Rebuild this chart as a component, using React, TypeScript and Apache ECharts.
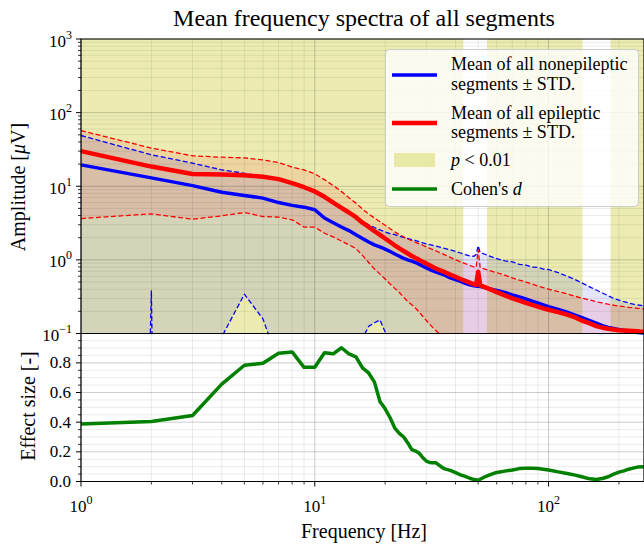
import React, { useEffect, useRef } from 'react';
import * as echarts from 'echarts';

const SERIF = 'Liberation Serif';

// ---------- data ----------
const FREQ = [
  1, 2, 3, 4, 5, 6, 7, 8, 9, 10,
  11, 12, 13, 14, 15, 16, 17, 18, 19, 20,
  21, 22, 23, 24, 25, 26, 27, 28, 29, 30,
  32, 34, 36, 38, 40, 42, 44, 46, 48,
  49, 50, 51, 52,
  55, 60, 65, 70, 75, 80, 85, 90, 95, 100,
  110, 120, 130, 140, 150, 160, 170, 180, 190, 200, 210, 220, 230, 240,
  250, 256,
];

const BLUE_MEAN = [
  19.5, 13, 10.2, 8.3, 7.5, 6.9, 6.0, 5.5, 5.2, 4.8,
  3.7, 3.2, 2.8, 2.5, 2.2, 1.95, 1.75, 1.6, 1.5, 1.4,
  1.3, 1.2, 1.12, 1.05, 1.0, 0.96, 0.92, 0.87, 0.82, 0.78,
  0.71, 0.66, 0.62, 0.57, 0.54, 0.51, 0.48, 0.46, 0.445,
  0.44, 0.44, 0.435, 0.43,
  0.41, 0.385, 0.36, 0.335, 0.315, 0.295, 0.275, 0.26, 0.245, 0.232,
  0.213, 0.195, 0.178, 0.163, 0.15, 0.138, 0.128, 0.121, 0.117, 0.113, 0.11, 0.107, 0.105, 0.103,
  0.102, 0.101,
];

const BLUE_UPPER = [
  48.9, 26.7, 20.6, 16.7, 15.0, 13.6, 12.4, 10.9, 9.6, 8.4,
  7.1, 5.9, 5.0, 4.3, 3.7, 3.3, 3.0, 2.75, 2.55, 2.4,
  2.28, 2.2, 2.1, 2.02, 1.95, 1.89, 1.83, 1.77, 1.7, 1.65,
  1.57, 1.5, 1.43, 1.37, 1.3, 1.24, 1.18, 1.13, 1.12,
  1.18, 1.55, 1.25, 1.23,
  1.15, 1.04, 0.97, 0.94, 0.87, 0.85, 0.8, 0.79, 0.75, 0.74,
  0.67, 0.6, 0.54, 0.48, 0.43, 0.39, 0.355, 0.325, 0.3, 0.285, 0.27, 0.26, 0.25, 0.245,
  0.24, 0.238,
];

const BLUE_LOWER = [
  1e-40, 0.38, 1e-40, 0.09, 0.342, 0.158, 0.04, 0.01, 0.01, 0.01,
  0.01, 0.01, 0.01, 0.01, 0.01, 0.086, 0.125, 0.14, 0.153, 0.105,
  0.06, 0.02, 0.01, 0.01, 0.01, 0.01, 0.01, 0.01, 0.01, 0.01,
  0.01, 0.01, 0.01, 0.01, 0.01, 0.01, 0.01, 0.01, 0.01,
  0.01, 0.01, 0.01, 0.01,
  0.01, 0.01, 0.01, 0.01, 0.01, 0.01, 0.01, 0.01, 0.01, 0.01,
  0.01, 0.01, 0.01, 0.01, 0.01, 0.01, 0.01, 0.01, 0.01, 0.01, 0.01, 0.01, 0.01, 0.01,
  0.01, 0.01,
];

const RED_MEAN = [
  30, 18.5, 14.7, 14.4, 14.1, 13.5, 12.5, 11, 9.7, 8.5,
  7.2, 6.0, 5.1, 4.4, 3.8, 3.2, 2.8, 2.45, 2.19, 1.95,
  1.75, 1.57, 1.43, 1.32, 1.22, 1.13, 1.06, 1.0, 0.94, 0.89,
  0.8, 0.73, 0.68, 0.63, 0.59, 0.55, 0.52, 0.49, 0.465,
  0.46, 0.69, 0.45, 0.44,
  0.41, 0.365, 0.33, 0.3, 0.28, 0.26, 0.245, 0.232, 0.22, 0.21,
  0.195, 0.18, 0.165, 0.148, 0.137, 0.126, 0.12, 0.116, 0.113, 0.111, 0.11, 0.109, 0.108, 0.107,
  0.106, 0.106,
];

const RED_UPPER = [
  57, 33, 25.9, 24.8, 24.3, 22.8, 21, 18.2, 16.7, 14.7,
  12.3, 10.2, 8.5, 7.0, 5.9, 4.9, 4.2, 3.7, 3.3, 2.95,
  2.65, 2.4, 2.2, 2.05, 1.92, 1.82, 1.73, 1.65, 1.58, 1.5,
  1.38, 1.27, 1.17, 1.08, 1.0, 0.94, 0.89, 0.84, 0.8,
  0.79, 1.37, 0.78, 0.77,
  0.73, 0.67, 0.62, 0.57, 0.53, 0.5, 0.47, 0.44, 0.42, 0.4,
  0.37, 0.345, 0.32, 0.3, 0.285, 0.27, 0.26, 0.25, 0.242, 0.236, 0.231, 0.227, 0.224, 0.22,
  0.218, 0.216,
];

const RED_LOWER = [
  3.64, 4.22, 3.57, 3.96, 4.4, 3.88, 3.8, 3.5, 2.78, 2.78,
  2.3, 2.05, 1.8, 1.6, 1.42, 1.15, 0.92, 0.75, 0.64, 0.55,
  0.47, 0.41, 0.36, 0.31, 0.27, 0.245, 0.22, 0.195, 0.17, 0.15,
  0.12, 0.1, 0.085, 0.07, 0.06, 0.05, 0.045, 0.04, 0.035,
  0.035, 0.05, 0.035, 0.035,
  0.033, 0.03, 0.03, 0.03, 0.03, 0.03, 0.03, 0.03, 0.03, 0.03,
  0.03, 0.03, 0.03, 0.03, 0.03, 0.03, 0.03, 0.03, 0.03, 0.03, 0.03, 0.03, 0.03, 0.03,
  0.03, 0.03,
];

// significance (p < 0.01) frequency spans
const SIG_START = [1, 54.5, 184];
const SIG_END = [43.2, 139.7, 256];

// Cohen's d
const D_FREQ = [
  1, 2, 3, 4, 5, 6, 7, 8, 9, 10,
  11, 12, 13, 14, 15, 16, 17, 18, 19, 20,
  21, 22, 23, 24, 25, 26, 27, 28, 29, 30,
  31, 32, 33, 34, 35, 36, 38, 40, 42, 44, 46, 48, 50,
  52, 54, 56, 60, 65, 70, 75, 80, 85, 90, 95, 100,
  110, 120, 130, 140, 150, 160, 170, 180, 190, 200, 210, 220, 230, 240, 256,
];
const D_VALS = [
  0.388, 0.404, 0.445, 0.657, 0.784, 0.797, 0.865, 0.874, 0.77, 0.77,
  0.868, 0.861, 0.902, 0.861, 0.841, 0.766, 0.732, 0.67, 0.54, 0.49,
  0.43, 0.36, 0.325, 0.3, 0.26, 0.215, 0.205, 0.19, 0.16, 0.138,
  0.128, 0.127, 0.126, 0.11, 0.095, 0.085, 0.075, 0.06, 0.045, 0.035, 0.022, 0.013, 0.008,
  0.022, 0.035, 0.045, 0.061, 0.07, 0.078, 0.087, 0.09, 0.09, 0.088, 0.082, 0.077,
  0.065, 0.054, 0.043, 0.03, 0.018, 0.013, 0.02, 0.032, 0.05, 0.063, 0.072, 0.083, 0.09, 0.097, 0.1,
];

// tick positions
const X_MAJOR = [1, 10, 100];
const X_MINOR = [2, 3, 4, 5, 6, 7, 8, 9, 20, 30, 40, 50, 60, 70, 80, 90, 200];
const YT_MAJOR = [0.1, 1, 10, 100, 1000];
const YT_MINOR = [
  0.2, 0.3, 0.4, 0.5, 0.6, 0.7, 0.8, 0.9,
  2, 3, 4, 5, 6, 7, 8, 9,
  20, 30, 40, 50, 60, 70, 80, 90,
  200, 300, 400, 500, 600, 700, 800, 900,
];
const YB_MAJOR = [0, 0.2, 0.4, 0.6, 0.8];
const YB_MINOR = [0.05, 0.1, 0.15, 0.25, 0.3, 0.35, 0.45, 0.5, 0.55, 0.65, 0.7, 0.75, 0.85, 0.9, 0.95];

const X_MIN = 1;
const X_MAX = 256;

// ---------- helpers ----------
const MAJOR_GRID = 'rgba(0,0,0,0.20)';
const MINOR_GRID = 'rgba(0,0,0,0.08)';

function vGrid(axisIdx: number, yRef: number, ticks: boolean) {
  const data = [
    ...X_MAJOR.map((v) => [v, yRef, 1]),
    ...X_MINOR.map((v) => [v, yRef, 0]),
  ];
  return {
    type: 'custom', xAxisIndex: axisIdx, yAxisIndex: axisIdx, z: 3, silent: true,
    data, encode: { x: 0, y: 1 },
    renderItem: (params: any, api: any) => {
      const cs = params.coordSys;
      const x = api.coord([api.value(0), yRef])[0];
      const major = api.value(2) === 1;
      const children: any[] = [
        { type: 'line', shape: { x1: x, y1: cs.y, x2: x, y2: cs.y + cs.height },
          style: { stroke: major ? MAJOR_GRID : MINOR_GRID, lineWidth: 1 } },
      ];
      if (ticks) {
        children.push({ type: 'line', shape: { x1: x, y1: cs.y + cs.height, x2: x, y2: cs.y + cs.height + (major ? 5 : 3) },
          style: { stroke: '#000', lineWidth: major ? 1 : 0.8 } });
      }
      return { type: 'group', children };
    },
  };
}

function hGrid(axisIdx: number, xRef: number, major: number[], minor: number[]) {
  const data = [
    ...major.map((v) => [xRef, v, 1]),
    ...minor.map((v) => [xRef, v, 0]),
  ];
  return {
    type: 'custom', xAxisIndex: axisIdx, yAxisIndex: axisIdx, z: 3, silent: true,
    data, encode: { x: 0, y: 1 },
    renderItem: (params: any, api: any) => {
      const cs = params.coordSys;
      const y = api.coord([xRef, api.value(1)])[1];
      const isMajor = api.value(2) === 1;
      return {
        type: 'group',
        children: [
          { type: 'line', shape: { x1: cs.x, y1: y, x2: cs.x + cs.width, y2: y },
            style: { stroke: isMajor ? MAJOR_GRID : MINOR_GRID, lineWidth: 1 } },
          { type: 'line', shape: { x1: cs.x - (isMajor ? 5 : 3), y1: y, x2: cs.x, y2: y },
            style: { stroke: '#000', lineWidth: isMajor ? 1 : 0.8 } },
        ],
      };
    },
  };
}

function band(lo: number[], hi: number[], color: string, z: number) {
  return {
    type: 'custom', xAxisIndex: 0, yAxisIndex: 0, z, silent: true, clip: true,
    data: FREQ.map((f, i) => [f, lo[i], hi[i]]),
    encode: { x: 0, y: [1, 2] },
    renderItem: (params: any, api: any) => {
      if (params.dataIndex !== 0) return null;
      const top = FREQ.map((f, i) => api.coord([f, hi[i]]));
      const bot = FREQ.map((f, i) => api.coord([f, lo[i]])).reverse();
      return { type: 'polygon', shape: { points: top.concat(bot) }, style: { fill: color } };
    },
  };
}

function line(vals: number[], color: string, width: number, dashed: boolean, z: number) {
  return {
    type: 'line', xAxisIndex: 0, yAxisIndex: 0, z, silent: true, clip: true,
    data: FREQ.map((f, i) => [f, vals[i]]),
    symbol: 'none', showSymbol: false,
    lineStyle: { color, width, type: dashed ? [5, 2.5] : 'solid', cap: 'butt', join: 'round' },
  };
}

const sciRich = {
  b: { fontSize: 17, fontFamily: SERIF, color: '#000', padding: [4, 0, 0, 0], verticalAlign: 'bottom' },
  s: { fontSize: 12, fontFamily: SERIF, color: '#000', verticalAlign: 'top' },
};
const sciFmt = (v: number) => {
  const e = Math.round(Math.log10(v));
  return `{b|10}{s|${e < 0 ? '\u2212' + -e : e}}`;
};

const LEG = 18;
const txt = (extra: any) => ({ fontSize: LEG, fontFamily: SERIF, fill: '#000', verticalAlign: 'middle', ...extra });
const italic = { i: { fontSize: LEG, fontFamily: SERIF, fontStyle: 'italic', fill: '#000' } };

export default function App() {
  const ref = useRef<HTMLDivElement>(null);
  useEffect(() => {
    document.body.style.margin = '0';
    const chart = echarts.init(ref.current!, null, { renderer: 'svg' });
    const option: any = {
      animation: false,
      textStyle: { fontFamily: SERIF },
      grid: [
        { left: 81, top: 39, width: 569.5, height: 294.5, show: true, borderColor: '#000', borderWidth: 1.2, backgroundColor: 'transparent', z: 10 },
        { left: 81, top: 333.5, width: 569.5, height: 148, show: true, borderColor: '#000', borderWidth: 1.2, backgroundColor: 'transparent', z: 10 },
      ],
      xAxis: [
        { type: 'log', logBase: 10, gridIndex: 0, min: X_MIN, max: X_MAX, interval: 1,
          axisLine: { show: false }, axisTick: { show: false }, axisLabel: { show: false }, splitLine: { show: false } },
        { type: 'log', logBase: 10, gridIndex: 1, min: X_MIN, max: X_MAX, interval: 1,
          axisLine: { show: false }, axisTick: { show: false }, splitLine: { show: false },
          axisLabel: { formatter: sciFmt, rich: sciRich, margin: 12, showMaxLabel: false, hideOverlap: false,
            fontSize: 17, fontFamily: SERIF, color: '#000' } },
      ],
      yAxis: [
        { type: 'log', logBase: 10, gridIndex: 0, min: 0.1, max: 1000, interval: 1,
          axisLine: { show: false }, axisTick: { show: false }, splitLine: { show: false },
          axisLabel: { formatter: sciFmt, rich: sciRich, margin: 9, hideOverlap: false,
            fontSize: 17, fontFamily: SERIF, color: '#000' } },
        { type: 'value', gridIndex: 1, min: 0, max: 0.998, interval: 0.2,
          axisLine: { show: false }, axisTick: { show: false }, splitLine: { show: false },
          axisLabel: { formatter: (v: number) => v.toFixed(1), showMaxLabel: false, margin: 10,
            fontSize: 17, fontFamily: SERIF, color: '#000' } },
      ],
      series: [
        {
          type: 'custom', xAxisIndex: 0, yAxisIndex: 0, z: 1, silent: true, clip: true,
          data: SIG_START.map((s, i) => [s, 1, SIG_END[i]]),
          encode: { x: 0, y: 1 },
          renderItem: (params: any, api: any) => {
            const cs = params.coordSys;
            const x0 = api.coord([api.value(0), 1])[0];
            const x1 = api.coord([api.value(2), 1])[0];
            return { type: 'rect', shape: { x: x0, y: cs.y, width: x1 - x0, height: cs.height },
              style: { fill: 'rgba(191,191,0,0.3)' } };
          },
        },
        band(BLUE_LOWER, BLUE_UPPER, 'rgba(0,0,255,0.1)', 2),
        band(RED_LOWER, RED_UPPER, 'rgba(255,0,0,0.1)', 2),
        vGrid(0, 1, false),
        hGrid(0, 10, YT_MAJOR, YT_MINOR),
        vGrid(1, 0.5, true),
        hGrid(1, 10, YB_MAJOR, YB_MINOR),
        line(BLUE_LOWER, '#0000ff', 1.3, true, 4),
        line(BLUE_UPPER, '#0000ff', 1.3, true, 4),
        line(BLUE_MEAN, '#0000ff', 3.5, false, 5),
        line(RED_LOWER, '#ff0000', 1.3, true, 6),
        line(RED_UPPER, '#ff0000', 1.3, true, 6),
        line(RED_MEAN, '#ff0000', 4.5, false, 7),
        {
          type: 'line', xAxisIndex: 1, yAxisIndex: 1, z: 5, silent: true, clip: true,
          data: D_FREQ.map((f, i) => [f, D_VALS[i]]),
          symbol: 'none', showSymbol: false,
          lineStyle: { color: '#008000', width: 3.5, join: 'round' },
        },
      ],
      graphic: [
        { type: 'text', x: 364, y: 18, z: 100, style: txt({ text: 'Mean frequency spectra of all segments', fontSize: 24, align: 'center' }) },
        { type: 'text', x: 18, y: 187, rotation: Math.PI / 2, z: 100,
          style: txt({ text: 'Amplitude [{i|\u03bc}V]', fontSize: 20, align: 'center',
            rich: { i: { fontSize: 20, fontFamily: SERIF, fontStyle: 'italic', fill: '#000' } } }) },
        { type: 'text', x: 28, y: 406, rotation: Math.PI / 2, z: 100,
          style: txt({ text: 'Effect size [-]', fontSize: 20, align: 'center' }) },
        { type: 'text', x: 364, y: 531, z: 100,
          style: txt({ text: 'Frequency [Hz]', fontSize: 20, align: 'center' }) },
        // legend
        { type: 'rect', z: 100, shape: { x: 385.5, y: 49.5, width: 253, height: 157, r: 4 },
          style: { fill: 'rgba(255,255,255,0.8)', stroke: '#cccccc', lineWidth: 1 } },
        { type: 'line', z: 101, shape: { x1: 392, y1: 75, x2: 437, y2: 75 }, style: { stroke: '#0000ff', lineWidth: 3.5 } },
        { type: 'text', z: 101, x: 451, y: 64, style: txt({ text: 'Mean of all nonepileptic' }) },
        { type: 'text', z: 101, x: 451, y: 84, style: txt({ text: 'segments \u00b1 STD.' }) },
        { type: 'line', z: 101, shape: { x1: 392, y1: 123, x2: 437, y2: 123 }, style: { stroke: '#ff0000', lineWidth: 4.5 } },
        { type: 'text', z: 101, x: 451, y: 112.5, style: txt({ text: 'Mean of all epileptic' }) },
        { type: 'text', z: 101, x: 451, y: 131.5, style: txt({ text: 'segments \u00b1 STD.' }) },
        { type: 'rect', z: 101, shape: { x: 394, y: 153, width: 41, height: 14 }, style: { fill: 'rgba(191,191,0,0.3)' } },
        { type: 'text', z: 101, x: 451, y: 160, style: txt({ text: '{i|p} < 0.01', rich: italic }) },
        { type: 'line', z: 101, shape: { x1: 392, y1: 189, x2: 437, y2: 189 }, style: { stroke: '#008000', lineWidth: 3.5 } },
        { type: 'text', z: 101, x: 451, y: 189, style: txt({ text: "Cohen's {i|d}", rich: italic }) },
      ],
    };
    chart.setOption(option);
    return () => chart.dispose();
  }, []);
  return <div ref={ref} style={{ width: 644, height: 544 }} />;
}
